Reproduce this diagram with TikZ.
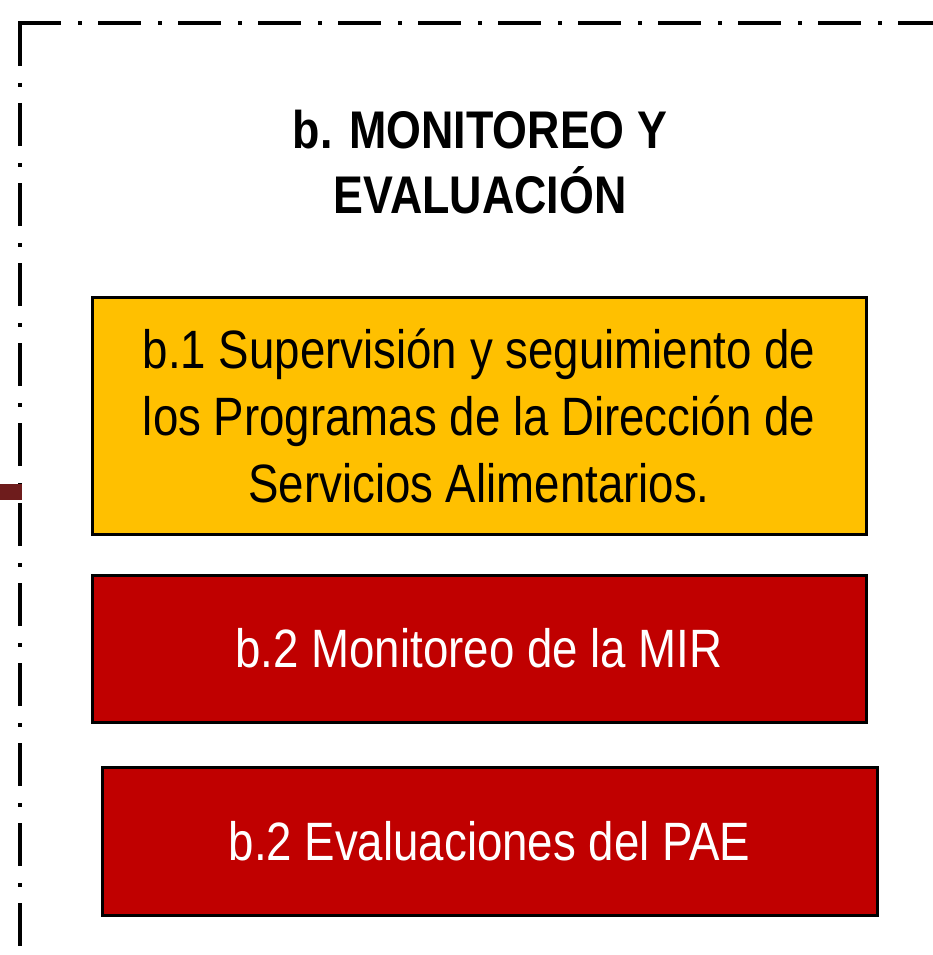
\documentclass[tikz,border=0pt]{standalone}
\usepackage{fontspec}
\setmainfont{Liberation Sans}[FakeStretch=0.845]
\usepackage{xcolor}
\usepackage{tikz}
\definecolor{amarillo}{HTML}{FFC000}
\definecolor{rojo}{HTML}{C00000}
\definecolor{cafe}{HTML}{6E1C1C}
\begin{document}
\begin{tikzpicture}[x=1pt, y=-1pt,
    caja/.style={draw, line width=3pt, minimum width=774pt, inner sep=0, align=center,
        font=\fontsize{54}{67}\selectfont},
    borde/.style={line width=4pt, dash pattern=on 43pt off 17pt on 4pt off 16pt}]
            \useasboundingbox (0,0) rectangle (933,955);
            % marco punteado
            \draw[borde] (18,23) -- (940,23);
            \draw[borde] (20,23) -- (20,960);
            \coordinate (e1) at (0,492);
            \coordinate (e2) at (22,492);
            \draw[cafe, line width=16pt] (e1) -- (e2);
            \node[font=\bfseries\fontsize{53}{65}\selectfont, align=center] (tit) at (480,162) {b. MONITOREO Y\\EVALUACIÓN};
            \node[caja, fill=amarillo, minimum height=237pt] (sup) at (479,415.5) {b.1 Supervisión y seguimiento de\\los Programas de la Dirección de\\Servicios Alimentarios.};
            \node[caja, fill=rojo, text=white, minimum height=147pt] (mir) at (479,648.5) {b.2 Monitoreo de la MIR};
            \node[caja, fill=rojo, text=white, minimum height=148pt, minimum width=775pt] (pae) at (489.5,841) {b.2 Evaluaciones del PAE};
        \end{tikzpicture}
\end{document}
